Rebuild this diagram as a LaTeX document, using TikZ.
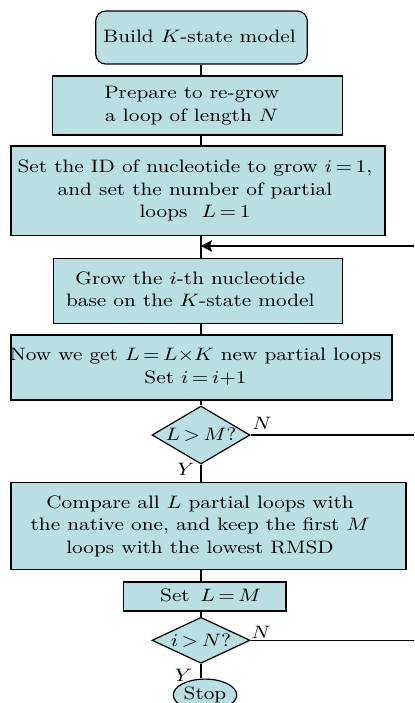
\documentclass[tikz,border=0pt]{standalone}
\usepackage{graphicx}
\usetikzlibrary{shapes.geometric,arrows.meta}
\definecolor{boxc}{RGB}{185,223,227}
\thickmuskip=3mu plus 2mu
\newcommand\ml[2][0pt]{\hspace*{#1}\scalebox{1.15}[1]{\begin{tabular}{@{}c@{}}#2\end{tabular}}}
\newcommand\sx[1]{\scalebox{1.15}[1]{#1}}
\begin{document}
\begin{tikzpicture}[x=0.5pt,y=-0.5pt,
 every node/.style={font=\fontsize{9}{11.25}\selectfont},
 box/.style={draw, fill=boxc, line width=0.6pt, inner sep=0pt},
 conn/.style={line width=0.9pt},
 side/.style={line width=0.7pt},
 lab/.style={inner sep=0pt}]
\useasboundingbox (0,0) rectangle (414,703);
\clip (0,0) rectangle (414,703);

\node[box, rounded corners=5pt, minimum width=105.8pt, minimum height=26.5pt] (start) at (201.5,37.5) {\ml[-2pt]{Build $K$-state model}};
\node[box, minimum width=145pt, minimum height=29.5pt] (prep) at (197.7,105.5) {\ml[-6pt]{Prepare to re-grow\\a loop of length $N$}};
\node[box, minimum width=187pt, minimum height=44.8pt] (init) at (198,190.8) {\ml[-3pt]{Set the ID of nucleotide to grow $i=1$,\\and set the number of partial\\loops\ \ $L=1$}};
\node[box, minimum width=144.5pt, minimum height=32.5pt] (grow) at (197.8,290.8) {\ml[-7.5pt]{Grow the $i$-th nucleotide\\base on the $K$-state model}};
\node[box, minimum width=190.5pt, minimum height=32.5pt] (now) at (201.5,367.5) {\ml[-6pt]{Now we get $L=L{\times}K$ new partial loops\\Set $i=i{+}1$}};
\node[box, diamond, minimum width=49pt, minimum height=29pt] (d1) at (201,435) {};
\node[lab] (d1t) at (d1.center) {\sx{$L>M?$}};
\node[box, minimum width=197.5pt, minimum height=43.8pt] (cmp) at (208.5,526) {\ml[-8.5pt]{Compare all $L$ partial loops with\\the native one, and keep the first $M$\\loops with the lowest RMSD}};
\node[box, minimum width=81.3pt, minimum height=14.5pt] (setl) at (204.7,596.5) {\ml[6pt]{Set\ \,$L=M$}};
\node[box, diamond, minimum width=49pt, minimum height=23pt] (d2) at (201,640.3) {};
\node[lab] (d2t) at (d2.center) {\sx{$i>N?$}};
\node[box, ellipse, minimum width=31.7pt, minimum height=11pt] (stop) at (205,695) {\ml{Stop}};

\node[lab] (n1) at (262,423) {\sx{$N$}};
\node[lab] (y1) at (186,469.5) {\sx{$Y$}};
\node[lab] (n2) at (261,632) {\sx{$N$}};
\node[lab] (y2) at (183.5,675) {\sx{$Y$}};

\coordinate (axis) at (201,0);
\draw[conn] (start.south -| axis) -- (prep.north -| axis);
\draw[conn] (prep.south -| axis) -- (init.north -| axis);
\draw[conn] (init.south -| axis) -- (grow.north -| axis);
\draw[conn] (grow.south -| axis) -- (now.north -| axis);
\draw[conn] (now.south -| axis) -- (d1.north);
\draw[conn] (d1.south) -- (cmp.north -| axis);
\draw[conn] (cmp.south -| axis) -- (setl.north -| axis);
\draw[conn] (setl.south -| axis) -- (d2.north);
\draw[conn] (d2.south) -- (stop.north -| axis);

\coordinate (merge) at (201,246);
\coordinate (fb) at (414,246);
\draw[side, -{Stealth[length=5.5pt,width=5.8pt,inset=1pt]}] (fb) -- (merge);
\coordinate (e1) at (414,435);
\draw[side] (d1.east) -- (e1);
\coordinate (e2) at (414,640.3);
\draw[side] (d2.east) -- (e2);
\end{tikzpicture}
\end{document}
